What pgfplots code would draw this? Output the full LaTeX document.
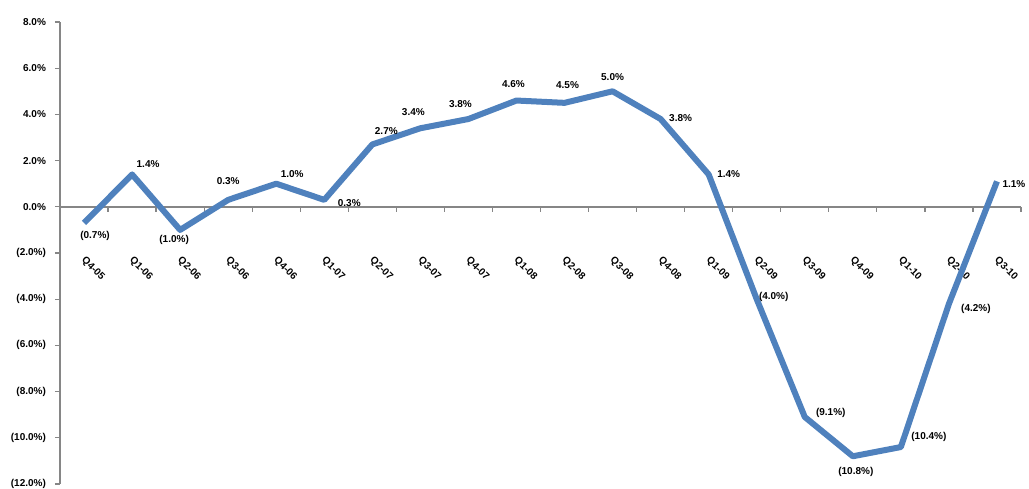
\documentclass[border=0pt]{standalone}
\usepackage{fontspec}
\setmainfont{Liberation Sans}
\usepackage{pgfplots}
\usepackage{pgfplotstable}
\pgfplotsset{compat=1.18}
\pgfkeys{/pgf/number format/assume math mode=true}
\definecolor{seriesblue}{RGB}{79,129,189}
\definecolor{axisgray}{RGB}{134,134,134}

% percentages with one decimal; negatives shown in parentheses
\newcommand\pctfmt[1]{%
  \pgfmathparse{#1}\let\pctval\pgfmathresult
  \pgfmathparse{abs(\pctval)}\let\pctabs\pgfmathresult
  \ifdim\pctval pt<0pt
    (\pgfmathprintnumber[fixed,fixed zerofill,precision=1]{\pctabs}\%)%
  \else
    \pgfmathprintnumber[fixed,fixed zerofill,precision=1]{\pctabs}\%%
  \fi}

% quarterly growth; lx, ly = label offset from the point (pt)
\pgfplotstableread{
idx val lx ly
0 -0.7 5.5 -6.5
1 1.4 8 5
2 -1.0 -3 -5
3 0.3 0 9.5
4 1.0 8 5
5 0.3 12.5 -1.5
6 2.7 7 6.5
7 3.4 -3.5 8
8 3.8 -4 7.5
9 4.6 -1.5 8
10 4.5 1.5 9
11 5.0 0 7
12 3.8 10 0.5
13 1.4 10 0
14 -4.0 8.5 1
15 -9.1 13 2
16 -10.8 1.5 -8
17 -10.4 14 5
18 -4.2 13.5 -2.5
19 1.1 8.5 -1.5
}\growth

\begin{document}
\begin{tikzpicture}
\path[use as bounding box] (-30pt,-2pt) rectangle (484.5pt,242pt);
\begin{axis}[
  at={(0,0)}, anchor=south west,
  scale only axis, width=480.5pt, height=231pt,
  xmin=-0.5, xmax=19.5, ymin=-12, ymax=8,
  clip=false,
  axis x line*=middle, axis y line*=left,
  hide obscured x ticks=false,
  x axis line style={axisgray, line width=1.2pt},
  y axis line style={axisgray, line width=0.8pt},
  tick align=outside,
  major tick length=2.5pt,
  tick style={axisgray, line width=0.6pt},
  xtick={-0.5,0.5,...,19.5},
  xticklabels={Q4-05,Q1-06,Q2-06,Q3-06,Q4-06,Q1-07,Q2-07,Q3-07,Q4-07,Q1-08,Q2-08,Q3-08,Q4-08,Q1-09,Q2-09,Q3-09,Q4-09,Q1-10,Q2-10,Q3-10,{}},
  xticklabel style={font=\fontsize{5}{6}\selectfont\bfseries, anchor=center, xshift=16.5pt, yshift=-28.5pt, rotate=-45},
  ytick={-12,-10,...,8},
  yticklabel={\pctfmt{\tick}},
  yticklabel style={font=\fontsize{5}{6}\selectfont\bfseries, xshift=-1pt},
]
\addplot[seriesblue, line width=3pt, line join=round, mark=none,
  nodes near coords={\pctfmt{\yv}},
  visualization depends on={\thisrow{val} \as \yv},
  visualization depends on={\thisrow{lx} \as \lblx},
  visualization depends on={\thisrow{ly} \as \lbly},
  every node near coord/.append style={text=black, font=\fontsize{5}{6}\selectfont\bfseries,
    anchor=center, xshift=\lblx pt, yshift=\lbly pt},
] table[x=idx, y=val] {\growth};
\end{axis}
\end{tikzpicture}
\end{document}
